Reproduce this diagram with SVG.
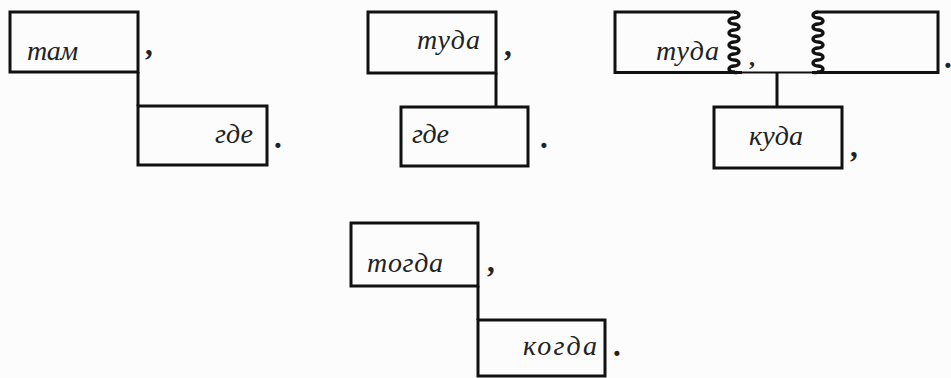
<svg xmlns="http://www.w3.org/2000/svg" width="951" height="378" viewBox="0 0 951 378">
<style>
.box{fill:none;stroke:#111;stroke-width:3}
.wave{fill:none;stroke:#111;stroke-width:3.4}
.con{fill:none;stroke:#111;stroke-width:3}
.thin{fill:none;stroke:#111;stroke-width:2}
.w{font-family:"Liberation Serif","Times New Roman",serif;font-style:italic;font-size:28px;fill:#222}
.p{font-family:"Liberation Serif","Times New Roman",serif;font-size:31px;font-weight:bold;fill:#222}
</style>
<rect width="951" height="378" fill="#fcfcfc"/>
<g id="connectors">
<line class="con" x1="138" y1="72" x2="138" y2="106"/>
<line class="con" x1="496" y1="73" x2="496" y2="107"/>
<line class="con" x1="777" y1="73" x2="777" y2="107"/>
<line class="thin" x1="741" y1="72.5" x2="813" y2="72.5"/>
<line class="con" x1="478" y1="286" x2="478" y2="320"/>
</g>
<g id="n-tam">
<rect class="box" x="10" y="12" width="128" height="60"/>
<text class="w" x="27" y="60" textLength="51">там</text>
<text class="p" x="145" y="55">,</text>
</g>
<g id="n-gde1">
<rect class="box" x="138" y="106" width="129" height="59"/>
<text class="w" x="215" y="143" textLength="38">где</text>
<text class="p" x="274" y="148">.</text>
</g>
<g id="n-tuda1">
<rect class="box" x="368" y="12" width="128" height="61"/>
<text class="w" x="417" y="49" textLength="63">туда</text>
<text class="p" x="504" y="56">,</text>
</g>
<g id="n-gde2">
<rect class="box" x="401" y="107" width="127" height="59"/>
<text class="w" x="412" y="143" textLength="37">где</text>
<text class="p" x="540" y="148">.</text>
</g>
<g id="n-tuda2">
<path class="box" d="M735,12 H615 V72.5 H742"/>
<path class="wave" d="M734,12 a5,3 0 0 1 0,6 a5,3 0 0 0 0,6 a5,3 0 0 1 0,6 a5,3 0 0 0 0,6 a5,3 0 0 1 0,6 a5,3 0 0 0 0,6 a5,3 0 0 1 0,6 a5,3 0 0 0 0,6 a5,3 0 0 1 0,6 a5,3 0 0 0 0,6 q1,1 3,0.5"/>
<text class="w" x="656" y="60" textLength="63">туда</text>
<text class="p" x="749" y="65" style="font-size:24px">,</text>
</g>
<g id="n-empty">
<path class="box" d="M818,12 H938 V72.5 H812"/>
<path class="wave" d="M818,12 a5,3 0 0 0 0,6 a5,3 0 0 1 0,6 a5,3 0 0 0 0,6 a5,3 0 0 1 0,6 a5,3 0 0 0 0,6 a5,3 0 0 1 0,6 a5,3 0 0 0 0,6 a5,3 0 0 1 0,6 a5,3 0 0 0 0,6 a5,3 0 0 1 0,6 q-1,1 -4,0.5"/>
<text class="p" x="944" y="68">.</text>
</g>
<g id="n-kuda">
<rect class="box" x="714" y="107" width="128" height="61"/>
<text class="w" x="749" y="145" textLength="54">куда</text>
<text class="p" x="850" y="157">,</text>
</g>
<g id="n-togda">
<rect class="box" x="351" y="223" width="127" height="63"/>
<text class="w" x="367" y="272" textLength="76">тогда</text>
<text class="p" x="487" y="272">,</text>
</g>
<g id="n-kogda">
<rect class="box" x="478" y="320" width="127" height="56"/>
<text class="w" x="523" y="355" textLength="74">когда</text>
<text class="p" x="613" y="356">.</text>
</g>
</svg>
